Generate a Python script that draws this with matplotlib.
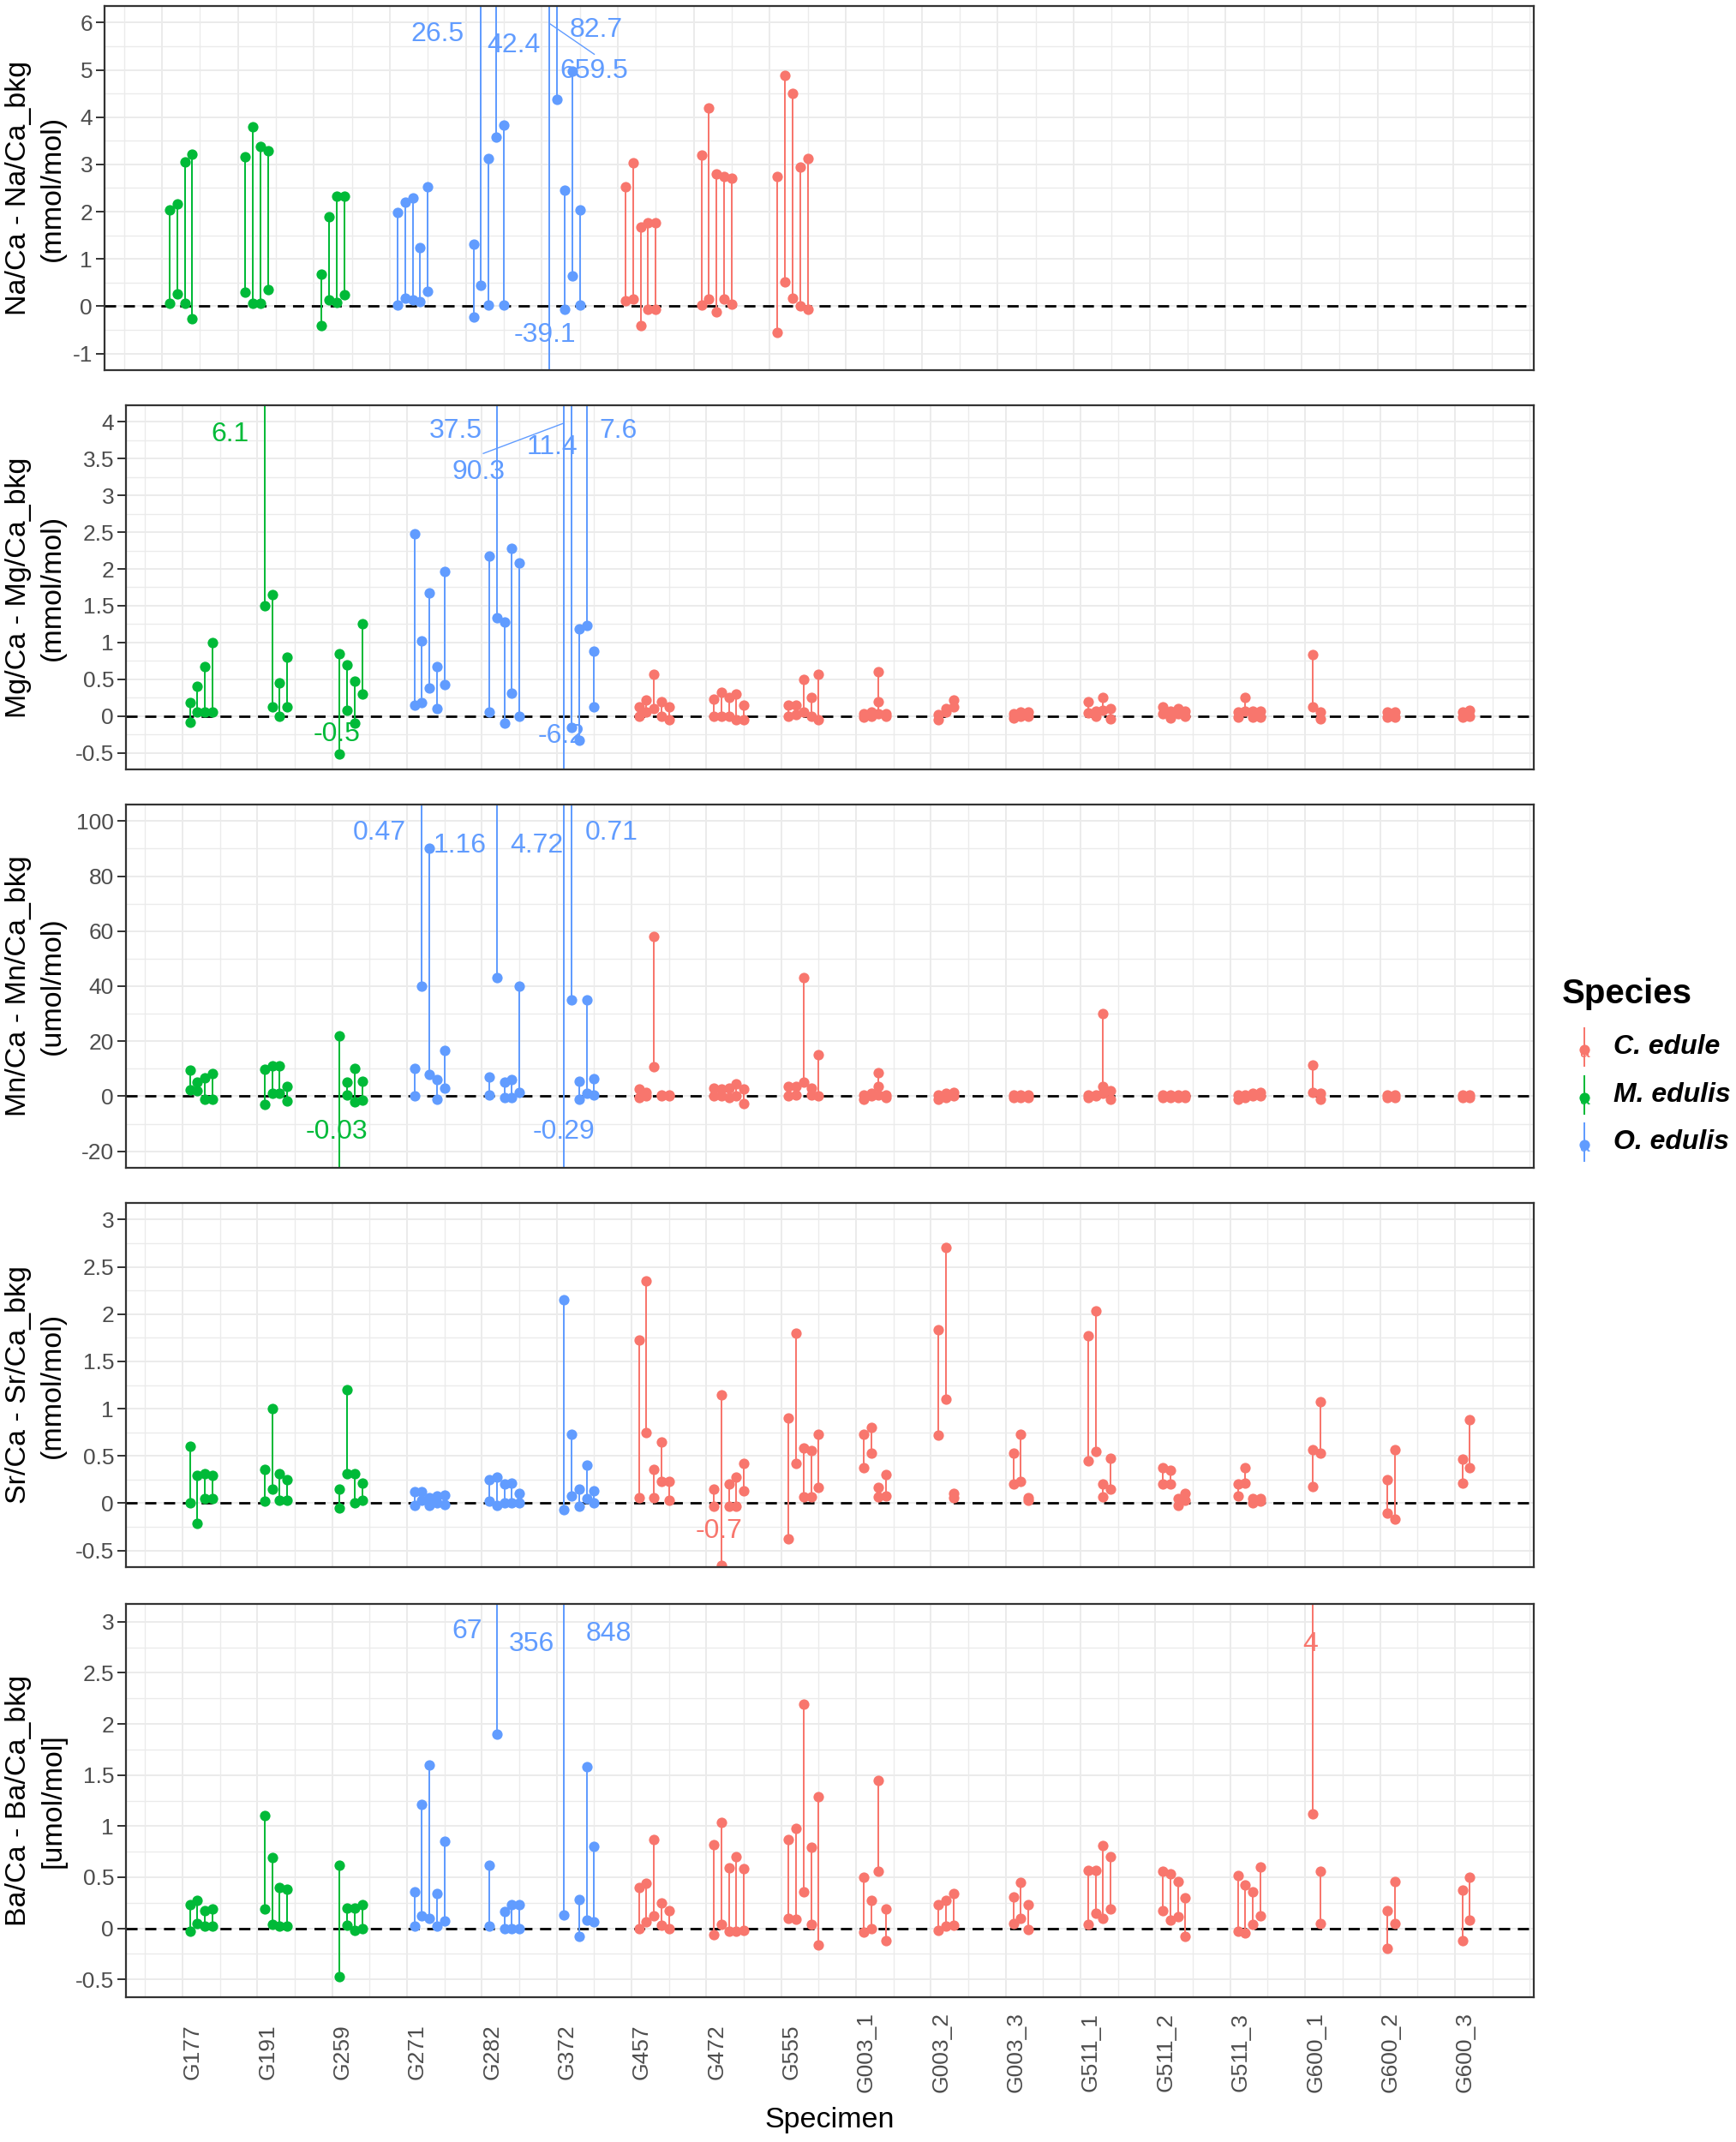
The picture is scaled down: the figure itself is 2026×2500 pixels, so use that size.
import matplotlib
matplotlib.use("Agg")
import matplotlib.pyplot as plt
import numpy as np

plt.rcParams['font.family'] = ['Liberation Sans', 'DejaVu Sans']

# ---------------- data ----------------
SPECIMENS = ["G177", "G191", "G259", "G271", "G282", "G372", "G457", "G472", "G555",
             "G003_1", "G003_2", "G003_3", "G511_1", "G511_2", "G511_3",
             "G600_1", "G600_2", "G600_3"]
SPECIES = ["M. edulis"] * 3 + ["O. edulis"] * 3 + ["C. edule"] * 12
SPECIES_ORDER = ["C. edule", "M. edulis", "O. edulis"]
SPECIES_COLORS = ["#F8766D", "#00BA38", "#619CFF"]

# each specimen: list of spots, each spot = values joined by a vertical line
NA_CA = [
    [[2.03, 0.07], [2.16, 0.27], [3.06, 0.07], [3.21, -0.27]],
    [[3.16, 0.30], [3.79, 0.07], [3.38, 0.07], [3.28, 0.35]],
    [[0.68, -0.41], [1.90, 0.13], [2.32, 0.08], [2.32, 0.24]],
    [[1.99, 0.02], [2.21, 0.18], [2.30, 0.14], [1.24, 0.10], [2.53, 0.32]],
    [[1.32, -0.23], [26.5, 0.44], [3.12, 0.03], [42.4, 3.58], [3.83, 0.03]],
    [[659.5, -39.1], [82.7, 4.38], [2.45, -0.07], [4.97, 0.65], [2.03, 0.03]],
    [[2.53, 0.12], [3.03, 0.15], [1.67, -0.41], [1.77, -0.07], [1.77, -0.07]],
    [[3.19, 0.03], [4.20, 0.15], [2.79, -0.11], [2.75, 0.15], [2.70, 0.05]],
    [[2.75, -0.56], [4.88, 0.52], [4.50, 0.18], [2.95, 0.0], [3.12, -0.07]],
    [], [], [], [], [], [], [], [], [],
]
MG_CA = [
    [[0.18, -0.08], [0.40, 0.06], [0.67, 0.06], [1.00, 0.06]],
    [[6.1, 1.50], [1.65, 0.13], [0.45, 0.0], [0.80, 0.13]],
    [[0.85, -0.52], [0.70, 0.08], [0.48, -0.10], [1.25, 0.30]],
    [[2.48, 0.15], [1.02, 0.18], [1.67, 0.38], [0.67, 0.10], [1.97, 0.43]],
    [[2.18, 0.05], [37.5, 1.34], [1.28, -0.10], [2.28, 0.31], [2.08, 0.0]],
    [[90.3, -6.2], [11.4, -0.16], [1.18, -0.33], [7.6, 1.23], [0.88, 0.13]],
    [[0.12, 0.0], [0.22, 0.05], [0.57, 0.10], [0.20, 0.0], [0.12, -0.05]],
    [[0.23, 0.0], [0.32, 0.0], [0.25, 0.0], [0.30, -0.05], [0.15, -0.05]],
    [[0.15, 0.0], [0.15, 0.02], [0.50, 0.05], [0.25, 0.0], [0.57, -0.05]],
    [[0.03, -0.02], [0.05, 0.0], [0.60, 0.20, 0.03], [0.03, 0.0]],
    [[0.02, -0.05], [0.10, 0.05], [0.22, 0.12]],
    [[0.03, -0.03], [0.05, 0.0], [0.05, 0.0]],
    [[0.19, 0.04], [0.07, 0.0], [0.25, 0.08], [0.10, -0.04]],
    [[0.12, 0.03], [0.07, -0.03], [0.10, 0.03], [0.07, 0.0]],
    [[0.05, -0.02], [0.25, 0.07], [0.07, -0.02], [0.07, -0.02]],
    [[0.83, 0.12], [0.06, -0.04]],
    [[0.05, -0.02], [0.05, -0.02]],
    [[0.05, -0.02], [0.08, 0.0]],
]
MN_CA = [
    [[9.6, 2.3], [5.2, 2.1], [6.8, -1.0], [8.3, -1.0]],
    [[9.9, -3.1], [10.9, 1.0], [10.9, 1.0], [3.5, -1.6]],
    [[22.0, -30.0], [5.0, 0.5], [10.0, -2.0], [5.5, -1.5]],
    [[10.0, 0.0], [470.0, 40.0], [90.0, 8.0], [6.0, -1.0], [16.5, 3.0]],
    [[7.0, 0.5], [1160.0, 43.0], [5.0, -0.5], [6.0, -0.5], [40.0, 1.5]],
    [[4720.0, -290.0], [710.0, 35.0], [5.5, -1.0], [35.0, 1.0], [6.5, 0.5]],
    [[2.5, -0.5], [1.5, 0.0], [58.0, 10.6], [0.5, 0.0], [0.5, 0.0]],
    [[3.0, 0.0], [2.5, 0.0], [3.0, -0.5], [4.5, 0.0], [2.5, -2.5]],
    [[3.5, 0.0], [3.5, 0.5], [43.0, 5.0], [3.0, 0.5], [15.0, 0.0]],
    [[0.5, -1.0], [1.0, 0.0], [8.5, 3.5, 0.5], [0.5, -0.5]],
    [[0.5, -1.0], [1.0, -0.5], [1.5, 0.0]],
    [[0.5, -0.5], [0.5, -0.5], [0.5, -0.5]],
    [[0.5, -0.5], [0.5, 0.0], [30.0, 3.6, 1.0], [2.0, -1.0]],
    [[0.5, -0.5], [0.5, -0.5], [0.5, -0.5], [0.5, -0.5]],
    [[0.5, -1.0], [0.5, -0.5], [1.0, 0.0], [1.5, 0.0]],
    [[11.4, 1.5], [1.0, -1.0]],
    [[0.5, -0.5], [0.5, -0.5]],
    [[0.5, -0.5], [0.5, -0.5]],
]
SR_CA = [
    [[0.60, 0.0], [0.29, -0.21], [0.31, 0.05], [0.29, 0.05]],
    [[0.36, 0.02], [1.00, 0.15], [0.31, 0.03], [0.25, 0.03]],
    [[0.15, -0.05], [1.20, 0.31], [0.31, 0.0], [0.21, 0.03]],
    [[0.12, -0.02], [0.12, 0.03], [0.06, -0.02], [0.08, 0.0], [0.09, -0.01]],
    [[0.25, 0.02], [0.28, -0.02], [0.20, 0.0], [0.21, 0.0], [0.10, 0.0]],
    [[2.15, -0.07], [0.73, 0.08], [0.15, -0.03], [0.40, 0.05], [0.13, 0.0]],
    [[1.73, 0.06], [2.35, 0.75], [0.36, 0.06], [0.65, 0.23], [0.23, 0.03]],
    [[0.15, -0.03], [1.15, -0.66], [0.20, -0.03], [0.28, -0.03], [0.42, 0.13]],
    [[0.90, -0.38], [1.80, 0.42], [0.58, 0.07], [0.56, 0.07], [0.73, 0.17]],
    [[0.73, 0.38], [0.80, 0.53], [0.17, 0.07], [0.30, 0.08]],
    [[1.83, 0.72], [2.70, 1.10], [0.10, 0.06]],
    [[0.53, 0.20], [0.73, 0.23], [0.06, 0.03]],
    [[1.77, 0.45], [2.03, 0.55], [0.20, 0.07], [0.48, 0.15]],
    [[0.38, 0.20], [0.35, 0.20], [0.05, -0.02], [0.10, 0.03]],
    [[0.20, 0.08], [0.38, 0.21], [0.05, 0.0], [0.05, 0.02]],
    [[0.57, 0.18], [1.07, 0.53]],
    [[0.25, -0.10], [0.57, -0.17]],
    [[0.47, 0.21], [0.88, 0.38]],
]
BA_CA = [
    [[0.23, -0.03], [0.27, 0.05], [0.17, 0.02], [0.19, 0.02]],
    [[1.10, 0.19], [0.69, 0.04], [0.40, 0.02], [0.38, 0.02]],
    [[0.62, -0.47], [0.20, 0.03], [0.20, -0.02], [0.23, 0.0]],
    [[0.36, 0.02], [1.21, 0.12], [1.60, 0.10], [0.34, 0.02], [0.85, 0.07]],
    [[0.62, 0.02], [67.0, 1.90], [0.16, 0.0], [0.23, 0.0], [0.23, 0.0]],
    [[356.0, 0.13], [848.0], [0.28, -0.08], [1.58, 0.08], [0.80, 0.06]],
    [[0.40, 0.0], [0.44, 0.06], [0.87, 0.12], [0.25, 0.03], [0.17, 0.0]],
    [[0.82, -0.06], [1.04, 0.04], [0.59, -0.03], [0.70, -0.03], [0.58, -0.02]],
    [[0.87, 0.10], [0.98, 0.09], [2.19, 0.36], [0.79, 0.04], [1.29, -0.16]],
    [[0.50, -0.04], [0.27, 0.0], [1.45, 0.56], [0.19, -0.12]],
    [[0.23, -0.02], [0.27, 0.02], [0.34, 0.03]],
    [[0.31, 0.05], [0.45, 0.10], [0.23, -0.01]],
    [[0.57, 0.04], [0.57, 0.15], [0.81, 0.10], [0.70, 0.19]],
    [[0.56, 0.17], [0.53, 0.08], [0.46, 0.11], [0.30, -0.08]],
    [[0.52, -0.03], [0.42, -0.05], [0.36, 0.04], [0.60, 0.12]],
    [[4.0, 1.12], [0.56, 0.05]],
    [[0.17, -0.20], [0.46, 0.05]],
    [[0.37, -0.12], [0.50, 0.08]],
]

Y_TITLES = ["Na/Ca - Na/Ca_bkg\n(mmol/mol)", "Mg/Ca - Mg/Ca_bkg\n(mmol/mol)",
            "Mn/Ca - Mn/Ca_bkg\n(umol/mol)", "Sr/Ca - Sr/Ca_bkg\n(mmol/mol)",
            "Ba/Ca - Ba/Ca_bkg\n[umol/mol]"]
Y_LIMITS = [(-1, 6), (-0.5, 4), (-20, 100), (-0.5, 3), (-0.5, 3)]
Y_STEPS = [1, 0.5, 20, 0.5, 0.5]

# out-of-range value labels (text, species)
LABELS_NA = [("26.5", "O. edulis"), ("42.4", "O. edulis"), ("82.7", "O. edulis"),
             ("659.5", "O. edulis"), ("-39.1", "O. edulis")]
LABELS_MG = [("6.1", "M. edulis"), ("37.5", "O. edulis"), ("90.3", "O. edulis"),
             ("11.4", "O. edulis"), ("7.6", "O. edulis"), ("-0.5", "M. edulis"),
             ("-6.2", "O. edulis")]
LABELS_MN = [("0.47", "O. edulis"), ("1.16", "O. edulis"), ("4.72", "O. edulis"),
             ("0.71", "O. edulis"), ("-0.03", "M. edulis"), ("-0.29", "O. edulis")]
LABELS_SR = [("-0.7", "C. edule")]
LABELS_BA = [("67", "O. edulis"), ("356", "O. edulis"), ("848", "O. edulis"), ("4", "C. edule")]

# label placement (repelled positions, data units)
LABEL_POS_NA = [(4.63, 5.76), (5.63, 5.52), (6.72, 5.85), (6.69, 4.97), (6.04, -0.61)]
LABEL_POS_MG = [(1.64, 3.83), (4.65, 3.88), (4.96, 3.32), (5.94, 3.65), (6.82, 3.88),
                (3.06, -0.25), (6.06, -0.27)]
LABEL_POS_MN = [(3.63, 95.6), (4.71, 91.0), (5.73, 91.0), (6.73, 95.6), (3.06, -13.0), (6.09, -13.0)]
LABEL_POS_SR = [(8.17, -0.295)]
LABEL_POS_BA = [(4.80, 2.91), (5.67, 2.78), (6.69, 2.88), (16.07, 2.78)]
SEGMENTS_NA = [((6.11, 5.97), (6.69, 5.33))]
SEGMENTS_MG = [((5.02, 3.57), (6.09, 3.98))]

PANEL_VALUES = [NA_CA, MG_CA, MN_CA, SR_CA, BA_CA]
PANEL_LABELS = [LABELS_NA, LABELS_MG, LABELS_MN, LABELS_SR, LABELS_BA]
PANEL_LABEL_POS = [LABEL_POS_NA, LABEL_POS_MG, LABEL_POS_MN, LABEL_POS_SR, LABEL_POS_BA]
PANEL_SEGMENTS = [SEGMENTS_NA, SEGMENTS_MG, [], [], []]

# ---------------- layout ----------------
W, H = 2026, 2500
fig = plt.figure(figsize=(W / 100, H / 100), dpi=100)
# (left, top, bottom) in pixels
PANEL_BOX = [(122, 7, 432), (147, 473, 898), (147, 939, 1363), (147, 1404, 1829), (147, 1872, 2331)]
RIGHT = 1790

color_of = dict(zip(SPECIES_ORDER, SPECIES_COLORS))
GRID = "#EBEBEB"
DARK = "#333333"
TXT = "#4D4D4D"

# x extent from data with 5% expansion
xs_all = [i + 1 + 0.1 * (k + 1) for vals in PANEL_VALUES for i, spots in enumerate(vals)
          for k, s in enumerate(spots)]
xmin, xmax = min(xs_all), max(xs_all)
xpad = 0.05 * (xmax - xmin)
XLIM = (xmin - xpad, xmax + xpad)

for p, (vals, ytitle, ylim, ystep, labels, lpos, segs) in enumerate(
        zip(PANEL_VALUES, Y_TITLES, Y_LIMITS, Y_STEPS, PANEL_LABELS, PANEL_LABEL_POS, PANEL_SEGMENTS)):
    left, top, bottom = PANEL_BOX[p]
    ax = fig.add_axes([left / W, 1 - bottom / H, (RIGHT - left) / W, (bottom - top) / H])
    lo, hi = ylim
    pad = 0.05 * (hi - lo)

    # grid
    yt = np.arange(lo, hi + ystep / 2, ystep)
    ax.set_yticks(yt)
    ax.set_yticklabels(["{:g}".format(round(v, 6)) for v in yt])
    ax.set_yticks(np.arange(lo - ystep / 2, hi + ystep, ystep), minor=True)
    ax.set_xticks(np.arange(1, len(SPECIMENS) + 1))
    ax.set_xticks(np.arange(0.5, len(SPECIMENS) + 1.6, 0.5), minor=True)
    ax.set_ylim(lo - pad, hi + pad)
    ax.set_xlim(*XLIM)
    ax.grid(which="major", color=GRID, lw=1.4, zorder=0)
    ax.grid(which="minor", color=GRID, lw=1.0, zorder=0)
    ax.set_axisbelow(True)
    ax.tick_params(axis="y", which="major", length=7, width=1.4, color=DARK, pad=3,
                   labelsize=19, labelcolor=TXT)
    ax.tick_params(which="minor", length=0)
    if p == len(PANEL_VALUES) - 1:
        ax.set_xticklabels(SPECIMENS, rotation=90, ha="left", va="center")
        ax.tick_params(axis="x", which="major", length=0, pad=46, labelsize=19, labelcolor=TXT)
    else:
        ax.tick_params(axis="x", which="major", length=0, labelbottom=False)
    for sp in ax.spines.values():
        sp.set_color(DARK)
        sp.set_linewidth(1.6)
        sp.set_zorder(5)

    ax.axhline(0, color="black", lw=2.0, ls=(0, (4.7, 3.2)), zorder=1.5)

    for i, spots in enumerate(vals):
        col = color_of[SPECIES[i]]
        for k, s in enumerate(spots):
            x = i + 1 + 0.1 * (k + 1)
            ax.plot([x] * len(s), s, "-", color=col, lw=1.44, zorder=2)
            ax.plot([x] * len(s), s, "o", color=col, ms=8.8, mew=0, zorder=3)

    for (txt, sp), (lx, ly) in zip(labels, lpos):
        ax.text(lx, ly, txt, color=color_of[sp], fontsize=23, ha="center", va="center", zorder=4)
    for (a, b) in segs:
        ax.plot([a[0], b[0]], [a[1], b[1]], color=SPECIES_COLORS[2], lw=1.0, zorder=4)

    fig.text(41.5 / W, 1 - (top + bottom) / 2 / H, ytitle, rotation=90, ha="center", va="center",
             multialignment="center", fontsize=24.5, color="black", linespacing=1.4)

fig.text((147 + RIGHT) / 2 / W, 1 - 2475 / H, "Specimen", ha="center", va="center", fontsize=24.5)

# ---------------- legend ----------------
ov = fig.add_axes([0, 0, 1, 1])
ov.set_xlim(0, W)
ov.set_ylim(H, 0)
ov.axis("off")
ov.text(1823, 1160, "Species", fontsize=29, fontweight="bold", ha="left", va="center")
for j, (name, col) in enumerate(zip(SPECIES_ORDER, SPECIES_COLORS)):
    yc = 1222 + 55.5 * j
    ov.plot([1849, 1849], [yc - 22, yc + 22], color=col, lw=1.44)
    ov.plot([1849], [yc + 3], "o", color=col, ms=8.8, mew=0)
    ov.text(1849, yc + 6, "a", color=col, fontsize=15, ha="center", va="center")
    ov.text(1883, yc, name, fontsize=23, fontweight="bold", fontstyle="italic",
            ha="left", va="center")

fig.savefig("out.png", dpi=100)
